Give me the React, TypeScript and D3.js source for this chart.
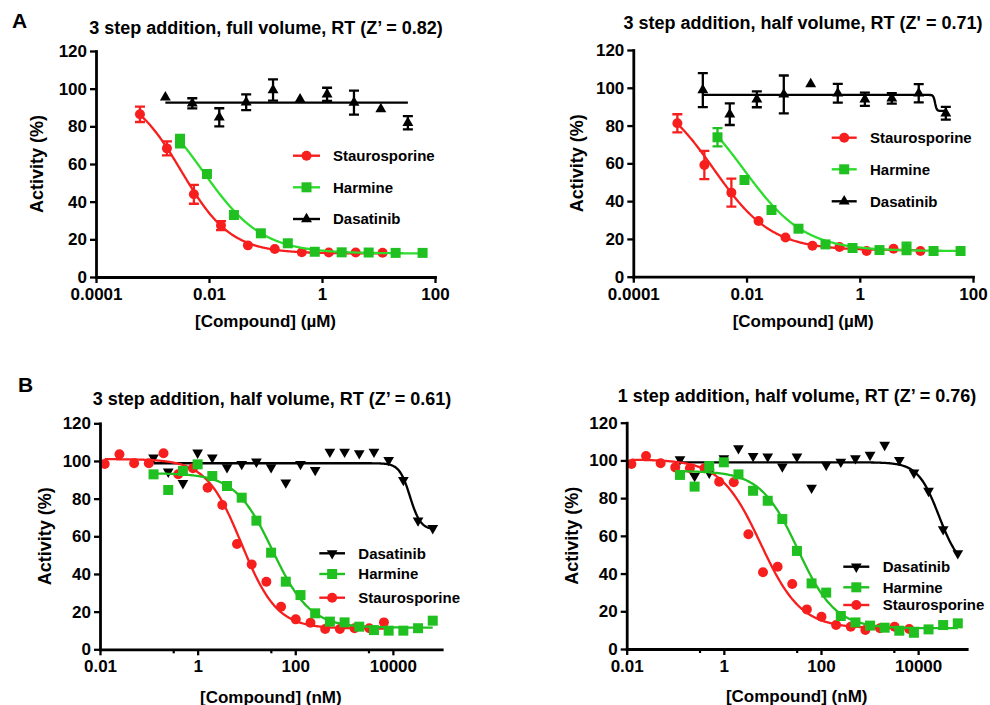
import { useRef, useEffect } from "react";
import * as d3 from "d3";

const FONT = "'Liberation Sans', Arial, Helvetica, sans-serif";

// ---- Panel A: concentrations in µM (3-fold series)
const concStauroA = [0.0006, 0.0018, 0.0054, 0.0163, 0.0488, 0.146, 0.439, 1.32, 3.95, 11.8];
const concHarmA = [0.00307, 0.0092, 0.0276, 0.0828, 0.248, 0.745, 2.23, 6.7, 20.1, 60.3];
const concDasaA = [0.00169, 0.00506, 0.0152, 0.0455, 0.136, 0.409, 1.23, 3.68, 11.0, 33.1];

// A left: 3 step addition, full volume
const a1Stauro = [86.4, 68.3, 43.9, 27.3, 16.8, 14.9, 13.1, 13.0, 13.0, 12.9];
const a1StauroErr = [4.1, 3.7, 5.0, 2.4, 0, 0, 0, 0, 0, 0];
const a1Harm = [72.2, 54.7, 32.9, 23.2, 17.9, 13.4, 13.1, 13.0, 12.8, 12.8];
const a1HarmErr = [3.3, 0, 0, 0, 0, 0, 0, 0, 0, 0];
const a1Dasa = [95.4, 92.2, 84.8, 92.8, 99.3, 94.4, 97.0, 92.6, 89.2, 81.9];
const a1DasaErr = [0, 2.7, 4.8, 4.2, 5.6, 0, 3.5, 6.4, 0, 3.5];

// A right: 3 step addition, half volume
const a2Stauro = [81.2, 59.1, 44.5, 29.5, 20.7, 16.4, 15.7, 13.6, 14.8, 13.6];
const a2StauroErr = [4.8, 7.5, 7.4, 0, 0, 0, 0, 0, 0, 0];
const a2Harm = [73.8, 51.2, 35.3, 25.4, 17.1, 15.2, 14.1, 15.0, 13.6, 13.6];
const a2HarmErr = [4.8, 0, 0, 0, 0, 0, 0, 3.0, 0, 0];
const a2Dasa = [98.8, 86.0, 93.9, 96.5, 101.9, 97.1, 93.9, 94.4, 97.1, 86.5];
const a2DasaErr = [9.0, 5.7, 4.2, 10.0, 0, 5.0, 3.5, 2.8, 4.8, 3.4];

// ---- Panel B: concentrations in nM (2-fold series)
const concStauroB = [0.0125, 0.025, 0.05, 0.1, 0.2, 0.4, 0.8, 1.6, 3.2, 6.4, 12.8, 25.6, 51.2, 102.4, 204.8, 409.6, 819.2, 1638.4, 3276.8, 6553.6];
const concHarmB = [0.125, 0.25, 0.5, 1, 2, 4, 8, 16, 32, 64, 128, 256, 512, 1024, 2048, 4096, 8192, 16384, 32768, 65536];
const concDasaB = concHarmB;

// B left: 3 step addition, half volume
const b1Stauro = [98.4, 103.6, 98.8, 98.8, 104.1, 92.9, 96.1, 85.8, 76.6, 55.9, 45.1, 35.9, 22.6, 15.9, 14.1, 10.8, 10.8, 11.2, 11.2, 14.3];
const b1Harm = [92.9, 84.6, 94.7, 98.2, 92.0, 86.7, 80.5, 68.3, 51.3, 35.9, 28.8, 19.1, 14.7, 14.3, 12.0, 10.2, 9.9, 9.9, 11.2, 15.2];
const b1Dasa = [101.8, 94.3, 88.2, 104.4, 101.8, 96.6, 98.4, 99.6, 96.6, 88.5, 98.4, 95.2, 104.9, 104.9, 104.1, 104.9, 100.5, 89.9, 68.3, 64.3];

// B right: 1 step addition, half volume
const b2Stauro = [98.1, 102.3, 98.5, 96.3, 95.8, 95.8, 88.7, 88.4, 60.8, 40.7, 43.6, 34.5, 21.0, 17.1, 12.7, 11.8, 10.1, 11.0, 11.8, 10.6];
const b2Harm = [92.3, 86.1, 97.0, 99.0, 92.6, 83.9, 78.6, 68.9, 52.0, 34.8, 29.9, 17.5, 14.1, 12.4, 11.3, 9.7, 8.6, 10.4, 12.7, 13.6];
const b2Dasa = [100.6, 91.7, 93.5, 101.1, 106.4, 102.3, 102.0, 96.7, 102.0, 85.5, 97.6, 99.3, 101.1, 102.9, 108.2, 100.2, 93.5, 83.8, 63.5, 50.7];

// fitted 4PL curves: [bottom, top, logIC50, hill]
const a1StauroFit = [12.5, 100, -2.49, 0.99];
const a1HarmFit = [12.5, 100, -2.11, 0.83];
const a1DasaFit = [92.6, 92.6, 0, 1];
const a2StauroFit = [14, 100, -2.58, 0.85];
const a2HarmFit = [13.6, 100, -2.05, 0.81];
const a2DasaFit = [87.8, 96.2, 1.33, 30];
const b1StauroFit = [11, 101, 0.9, 1.2];
const b1HarmFit = [11.5, 93.5, 1.535, 1.13];
const b1DasaFit = [63.5, 98.8, 4.35, 4];
const b2StauroFit = [11, 100.5, 0.76, 1.05];
const b2HarmFit = [11, 94.4, 1.525, 1.13];
const b2DasaFit = [42, 99, 4.43, 2];

// axis ticks
const yTicks = [0, 20, 40, 60, 80, 100, 120];
const xTicksA = [0.0001, 0.01, 1, 100];
const xTickLabelsA = ["0.0001", "0.01", "1", "100"];
const xTicksB = [0.01, 1, 100, 10000];
const xTickLabelsB = ["0.01", "1", "100", "10000"];
const xMinorB = [0.316, 31.6, 3162];

const RED = "#f71e1e";
const GREEN = "#20c020";
const GREEN_LINE = "#2edc2e";

function mk(name, conc, values, err, fit, color, lineColor, shape) {
  return { name, conc, values, err, fit, color, lineColor, shape };
}

const panels = [
  {
    id: "a1", left: 96, right: 435, top: 51, bottom: 277,
    xDomain: [0.0001, 100], ticks: xTicksA, tickLabels: xTickLabelsA, minor: [],
    title: "3 step addition, full volume, RT (Z\u2019 = 0.82)", titleX: 266, titleY: 34,
    yLabelX: 37, xLabel: "[Compound] (\u00b5M)", xLabelY: 327,
    legend: { x1: 293, x2: 320, text: 333, rows: [155.7, 187.3, 219] },
    series: [
      mk("Dasatinib", concDasaA, a1Dasa, a1DasaErr, a1DasaFit, "#000", "#000", "up"),
      mk("Staurosporine", concStauroA, a1Stauro, a1StauroErr, a1StauroFit, RED, RED, "circle"),
      mk("Harmine", concHarmA, a1Harm, a1HarmErr, a1HarmFit, GREEN, GREEN_LINE, "square"),
    ],
    legendOrder: ["Staurosporine", "Harmine", "Dasatinib"],
  },
  {
    id: "a2", left: 633.3, right: 973, top: 50, bottom: 276.7,
    xDomain: [0.0001, 100], ticks: xTicksA, tickLabels: xTickLabelsA, minor: [],
    title: "3 step addition, half volume, RT (Z' = 0.71)", titleX: 803, titleY: 29,
    yLabelX: 577, xLabel: "[Compound] (\u00b5M)", xLabelY: 326.5,
    legend: { x1: 831.7, x2: 856.7, text: 870, rows: [137.7, 169.3, 201.3] },
    series: [
      mk("Dasatinib", concDasaA, a2Dasa, a2DasaErr, a2DasaFit, "#000", "#000", "up"),
      mk("Staurosporine", concStauroA, a2Stauro, a2StauroErr, a2StauroFit, RED, RED, "circle"),
      mk("Harmine", concHarmA, a2Harm, a2HarmErr, a2HarmFit, GREEN, GREEN_LINE, "square"),
    ],
    legendOrder: ["Staurosporine", "Harmine", "Dasatinib"],
  },
  {
    id: "b1", left: 100, right: 441.7, top: 423.3, bottom: 649.3,
    xDomain: [0.01, 100000], ticks: xTicksB, tickLabels: xTickLabelsB, minor: xMinorB,
    title: "3 step addition, half volume, RT (Z\u2019 = 0.61)", titleX: 272, titleY: 405,
    yLabelX: 45, xLabel: "[Compound] (nM)", xLabelY: 702.5,
    legend: { x1: 319.3, x2: 345, text: 358.3, rows: [553.3, 574, 597.7] },
    series: [
      mk("Dasatinib", concDasaB, b1Dasa, null, b1DasaFit, "#000", "#000", "down"),
      mk("Staurosporine", concStauroB, b1Stauro, null, b1StauroFit, RED, RED, "circle"),
      mk("Harmine", concHarmB, b1Harm, null, b1HarmFit, GREEN, GREEN, "square"),
    ],
    legendOrder: ["Dasatinib", "Harmine", "Staurosporine"],
  },
  {
    id: "b2", left: 626.7, right: 966.7, top: 422.7, bottom: 649,
    xDomain: [0.01, 100000], ticks: xTicksB, tickLabels: xTickLabelsB, minor: xMinorB,
    title: "1 step addition, half volume, RT (Z\u2019 = 0.76)", titleX: 797, titleY: 401.5,
    yLabelX: 572, xLabel: "[Compound] (nM)", xLabelY: 701.5,
    legend: { x1: 843.3, x2: 869.3, text: 882.7, rows: [566.7, 587.3, 605] },
    series: [
      mk("Dasatinib", concDasaB, b2Dasa, null, b2DasaFit, "#000", "#000", "down"),
      mk("Staurosporine", concStauroB, b2Stauro, null, b2StauroFit, RED, RED, "circle"),
      mk("Harmine", concHarmB, b2Harm, null, b2HarmFit, GREEN, GREEN, "square"),
    ],
    legendOrder: ["Dasatinib", "Harmine", "Staurosporine"],
  },
];

function logistic(fit, lx) {
  const [bottom, top, logIC50, hill] = fit;
  return bottom + (top - bottom) / (1 + Math.pow(10, (lx - logIC50) * hill));
}

function symbolPath(shape) {
  if (shape === "circle") return d3.symbol(d3.symbolCircle, 78)();
  if (shape === "square") return d3.symbol(d3.symbolSquare, 100)();
  return d3.symbol(d3.symbolTriangle, shape === "down" ? 50 : 52)();
}

function Panel({ cfg }) {
  const ref = useRef(null);

  useEffect(() => {
    const g = d3.select(ref.current);
    g.selectAll("*").remove();

    const x = d3.scaleLog().domain(cfg.xDomain).range([cfg.left, cfg.right]);
    const y = d3.scaleLinear().domain([0, 120]).range([cfg.bottom, cfg.top]);

    // data: fitted curves, error bars, markers
    cfg.series.forEach((s) => {
      const lo = Math.log10(d3.min(s.conc));
      const hi = Math.log10(d3.max(s.conc));
      const steps = d3.range(0, 301).map((k) => lo + ((hi - lo) * k) / 300);
      g.append("path")
        .datum(steps)
        .attr("fill", "none")
        .attr("stroke", s.lineColor)
        .attr("stroke-width", 2.3)
        .attr("d", d3.line().x((l) => x(Math.pow(10, l))).y((l) => y(logistic(s.fit, l))));

      if (s.err) {
        const eb = g.append("g").attr("stroke", s.color).attr("stroke-width", 2.3).attr("fill", "none");
        s.values.forEach((v, i) => {
          const e = s.err[i];
          if (!e) return;
          const cx = x(s.conc[i]);
          const y1 = y(v + e);
          const y2 = y(v - e);
          eb.append("path").attr("d", `M${cx},${y1}V${y2}M${cx - 5},${y1}H${cx + 5}M${cx - 5},${y2}H${cx + 5}`);
        });
      }

      const sym = symbolPath(s.shape);
      g.append("g")
        .selectAll("path")
        .data(s.values)
        .join("path")
        .attr("d", sym)
        .attr("fill", s.color)
        .attr("transform", (v, i) => `translate(${x(s.conc[i])},${y(v)})${s.shape === "down" ? " rotate(180)" : ""}`);
    });

    // axes
    const gx = g.append("g")
      .attr("transform", `translate(0,${cfg.bottom})`)
      .call(d3.axisBottom(x).tickValues(cfg.ticks).tickFormat((d, i) => cfg.tickLabels[i]).tickSize(6).tickSizeOuter(0).tickPadding(5));
    if (cfg.minor.length) {
      g.append("g")
        .attr("transform", `translate(0,${cfg.bottom})`)
        .call(d3.axisBottom(x).tickValues(cfg.minor).tickFormat(() => "").tickSize(4))
        .call((a) => a.select(".domain").remove())
        .selectAll(".tick line")
        .attr("stroke-width", 2.2);
    }
    const gy = g.append("g")
      .attr("transform", `translate(${cfg.left},0)`)
      .call(d3.axisLeft(y).tickValues(yTicks).tickSize(6).tickSizeOuter(0).tickPadding(3));

    [gx, gy].forEach((a) => {
      a.attr("font-family", FONT).attr("font-size", 17).attr("font-weight", "bold");
      a.select(".domain").attr("stroke-width", 2.8).attr("stroke-linecap", "square");
      a.selectAll(".tick line").attr("stroke-width", 2.3);
      a.selectAll(".tick text").attr("fill", "#000");
    });

    // legend
    const lg = g.append("g");
    cfg.legendOrder.forEach((name, k) => {
      const s = cfg.series.find((d) => d.name === name);
      const ry = cfg.legend.rows[k];
      const mx = (cfg.legend.x1 + cfg.legend.x2) / 2;
      lg.append("line")
        .attr("x1", cfg.legend.x1).attr("x2", cfg.legend.x2)
        .attr("y1", ry).attr("y2", ry)
        .attr("stroke", s.lineColor).attr("stroke-width", 2.4);
      lg.append("path")
        .attr("d", symbolPath(s.shape))
        .attr("fill", s.color)
        .attr("transform", `translate(${mx},${ry})${s.shape === "down" ? " rotate(180)" : ""}`);
      lg.append("text")
        .attr("x", cfg.legend.text).attr("y", ry).attr("dy", "0.36em")
        .attr("font-family", FONT).attr("font-size", 15).attr("font-weight", "bold")
        .text(name);
    });
  }, [cfg]);

  const cx = (cfg.left + cfg.right) / 2;
  const cy = (cfg.top + cfg.bottom) / 2;
  return (
    <g>
      <text x={cfg.titleX} y={cfg.titleY} textAnchor="middle" fontSize={18} fontWeight="bold" fontFamily={FONT}>
        {cfg.title}
      </text>
      <text
        transform={`translate(${cfg.yLabelX},${cy}) rotate(-90)`}
        dy="0.36em"
        textAnchor="middle"
        fontSize={18}
        fontWeight="bold"
        fontFamily={FONT}
      >
        Activity (%)
      </text>
      <text x={cx} y={cfg.xLabelY} textAnchor="middle" fontSize={17} fontWeight="bold" fontFamily={FONT}>
        {cfg.xLabel}
      </text>
      <g ref={ref}></g>
    </g>
  );
}

export default function App() {
  return (
    <div style={{ position: "absolute", left: 0, top: 0 }}>
      <svg width={990} height={705} style={{ display: "block", background: "#fff" }}>
        <text x={12} y={28} fontSize={21} fontWeight="bold" fontFamily={FONT}>A</text>
        <text x={18} y={392} fontSize={21} fontWeight="bold" fontFamily={FONT}>B</text>
        {panels.map((p) => (
          <Panel key={p.id} cfg={p} />
        ))}
      </svg>
    </div>
  );
}
